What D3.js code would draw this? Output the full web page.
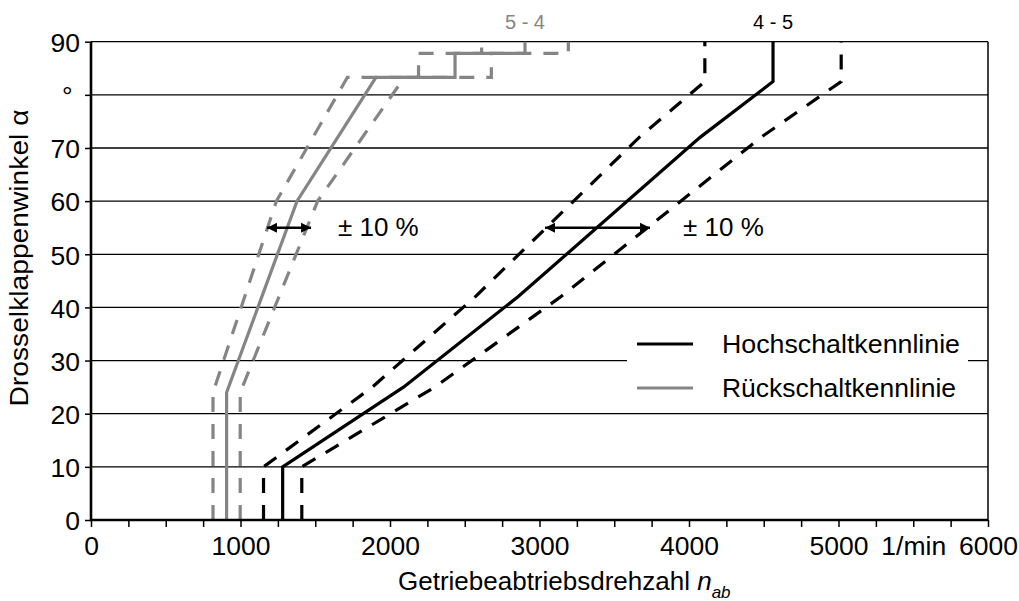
<!DOCTYPE html>
<html><head><meta charset="utf-8">
<script src="https://cdn.jsdelivr.net/npm/d3@7/dist/d3.min.js"></script>
<style>
body{margin:0;background:#fff}
svg{display:block;font-family:"Liberation Sans",Arial,Helvetica,sans-serif}
</style>
</head><body>
<svg id="c" width="1019" height="601"></svg>
<script>
// ---------- data ----------
const xTicks = [0, 1000, 2000, 3000, 4000, 5000, 5500, 6000];
const xTickLabels = ["0", "1000", "2000", "3000", "4000", "5000", "1/min", "6000"];
const xMinorStep = 250;
const yTicks = [0, 10, 20, 30, 40, 50, 60, 70, 80, 90];
const yTickLabels = ["0", "10", "20", "30", "40", "50", "60", "70", "°\u00a0", "90"];

// Hochschaltkennlinie 4-5 (angle in °, speed in 1/min)
const upAngle     = [0, 10, 25, 42, 72, 82.5, 90];
const upSpeed     = [1282, 1282, 2090, 2856, 4074, 4562, 4562];
const upSpeedLow  = [1154, 1154, 1881, 2570, 3667, 4106, 4106];
const upSpeedHigh = [1410, 1410, 2299, 3142, 4481, 5018, 5018];

// Rückschaltkennlinie 5-4
const downAngle     = [0, 24, 60, 83.3, 83.3, 87.8, 87.8, 90];
const downSpeed     = [907, 907, 1378, 1906, 2435, 2435, 2903, 2903];
const downSpeedLow  = [816, 816, 1240, 1715, 2191, 2191, 2613, 2613];
const downSpeedHigh = [998, 998, 1516, 2097, 2678, 2678, 3193, 3193];

// tolerance arrows (±10 %)
const arrowAngle = [55, 55];
const arrowFrom  = [1177, 3037];
const arrowTo    = [1472, 3739];
const tolText    = ["± 10 %", "± 10 %"];
const tolTextAt  = [1652, 3960];

const shiftLabels  = ["4 - 5", "5 - 4"];
const legendLabels = ["Hochschaltkennlinie", "Rückschaltkennlinie"];
const xTitle = "Getriebeabtriebsdrehzahl ";
const xTitleVar = "n";
const xTitleSub = "ab";
const yTitle = "Drosselklappenwinkel α";

// ---------- layout ----------
const W = 1019, H = 601;
const M = {left: 91, right: 31, top: 41.7, bottom: 81};
const GRAY = "#858585";
const svg = d3.select("#c");

const x = d3.scaleLinear().domain([0, 6000]).range([M.left, W - M.right]);
const y = d3.scaleLinear().domain([0, 90]).range([H - M.bottom, M.top]);

// arrow marker
svg.append("defs").append("marker")
  .attr("id", "ah").attr("viewBox", "0 0 10 10")
  .attr("refX", 10).attr("refY", 5)
  .attr("markerUnits", "userSpaceOnUse")
  .attr("markerWidth", 10).attr("markerHeight", 11)
  .attr("orient", "auto-start-reverse")
  .append("path").attr("d", "M0,0L10,5L0,10Z").attr("fill", "#000");

// grid lines
svg.append("g").selectAll("line").data(yTicks.filter(v => v > 0)).join("line")
  .attr("x1", x(0)).attr("x2", x(6000))
  .attr("y1", d => y(d)).attr("y2", d => y(d))
  .attr("stroke", "#000").attr("stroke-width", 1.3);

// right frame
svg.append("line").attr("x1", x(6000)).attr("x2", x(6000))
  .attr("y1", y(0)).attr("y2", y(90)).attr("stroke", "#000").attr("stroke-width", 1.5);

// legend background
const legX = 627, legY = 318;
svg.append("rect").attr("x", legX).attr("y", legY).attr("width", 341).attr("height", 86)
  .attr("fill", "#fff");

// curves
const line = d3.line().x(d => x(d[0])).y(d => y(d[1]));
const curves = [
  {xs: upSpeedLow,    ys: upAngle,   color: "#000", dash: "15,12", w: 3.2},
  {xs: upSpeedHigh,   ys: upAngle,   color: "#000", dash: "15,12", w: 3.2},
  {xs: upSpeed,       ys: upAngle,   color: "#000", dash: null,    w: 3.2},
  {xs: downSpeedLow,  ys: downAngle, color: GRAY,   dash: "15,12", w: 3.2},
  {xs: downSpeedHigh, ys: downAngle, color: GRAY,   dash: "15,12", w: 3.2},
  {xs: downSpeed,     ys: downAngle, color: GRAY,   dash: null,    w: 3.2}
];
svg.append("g").selectAll("path").data(curves).join("path")
  .attr("d", c => line(d3.zip(c.xs, c.ys)))
  .attr("fill", "none").attr("stroke", c => c.color)
  .attr("stroke-width", c => c.w)
  .attr("stroke-dasharray", c => c.dash)
  .attr("stroke-linejoin", "miter").attr("stroke-linecap", "butt");

// arrows
svg.append("g").selectAll("line").data(arrowFrom).join("line")
  .attr("x1", (d, i) => x(d)).attr("x2", (d, i) => x(arrowTo[i]))
  .attr("y1", (d, i) => y(arrowAngle[i])).attr("y2", (d, i) => y(arrowAngle[i]))
  .attr("stroke", "#000").attr("stroke-width", 2.6)
  .attr("marker-start", "url(#ah)").attr("marker-end", "url(#ah)");
svg.append("g").selectAll("text").data(tolText).join("text")
  .attr("x", (d, i) => x(tolTextAt[i])).attr("y", (d, i) => y(arrowAngle[i]) + 8)
  .attr("font-size", 26).attr("fill", "#000").text(d => d);

// shift labels on top
svg.append("text").attr("x", x(upSpeed[upSpeed.length - 1])).attr("y", 29)
  .attr("text-anchor", "middle").attr("font-size", 20).attr("fill", "#000").text(shiftLabels[0]);
svg.append("text").attr("x", x(downSpeed[downSpeed.length - 1])).attr("y", 29)
  .attr("text-anchor", "middle").attr("font-size", 20).attr("fill", GRAY).text(shiftLabels[1]);

// legend
const leg = svg.append("g");
[["#000", 0], [GRAY, 1]].forEach(([c, i]) => {
  const yy = 344 + i * 44;
  leg.append("line").attr("x1", 637).attr("x2", 693).attr("y1", yy).attr("y2", yy)
    .attr("stroke", c).attr("stroke-width", 3.2);
  leg.append("text").attr("x", 722).attr("y", yy + 8.5).attr("font-size", 25)
    .attr("textLength", i === 0 ? 238 : 234).attr("lengthAdjust", "spacingAndGlyphs")
    .text(legendLabels[i]);
});

// axes
const xAxis = svg.append("g").attr("transform", `translate(0,${y(0)})`)
  .call(d3.axisBottom(x).tickValues(d3.range(0, 6001, xMinorStep)).tickSize(7).tickFormat(""));
xAxis.select(".domain").remove();
xAxis.selectAll("line").attr("stroke", "#000").attr("stroke-width", 1.5);

const xLab = svg.append("g").attr("transform", `translate(0,${y(0)})`)
  .call(d3.axisBottom(x).tickValues(xTicks).tickSize(0).tickPadding(16)
    .tickFormat((d, i) => xTickLabels[i]));
xLab.select(".domain").remove();
xLab.selectAll("text").attr("font-size", 26.5).attr("fill", "#000")
  .attr("font-family", "Liberation Sans, Arial, sans-serif");

svg.append("line").attr("x1", x(0) - 1).attr("x2", x(6000))
  .attr("y1", y(0)).attr("y2", y(0)).attr("stroke", "#000").attr("stroke-width", 2.4);

const yAxis = svg.append("g").attr("transform", `translate(${x(0)},0)`)
  .call(d3.axisLeft(y).tickValues(yTicks).tickSize(6).tickPadding(5)
    .tickFormat((d, i) => yTickLabels[i]));
yAxis.select(".domain").remove();
yAxis.selectAll("line").attr("stroke", "#000").attr("stroke-width", 1.5);
yAxis.selectAll("text").attr("font-size", 26.5).attr("fill", "#000").attr("dy", "0.37em")
  .attr("font-family", "Liberation Sans, Arial, sans-serif");
svg.append("line").attr("x1", x(0)).attr("x2", x(0))
  .attr("y1", y(0) + 1).attr("y2", y(90)).attr("stroke", "#000").attr("stroke-width", 2.6);

// axis titles
const xt = svg.append("text").attr("x", 398).attr("y", 590).attr("font-size", 26).attr("fill", "#000");
xt.append("tspan").text(xTitle);
xt.append("tspan").attr("font-style", "italic").text(xTitleVar);
xt.append("tspan").attr("font-style", "italic").attr("font-size", 17).attr("dy", 8).text(xTitleSub);

svg.append("text").attr("transform", "translate(28,258) rotate(-90)")
  .attr("text-anchor", "middle").attr("font-size", 26).attr("fill", "#000")
  .attr("textLength", 297).attr("lengthAdjust", "spacingAndGlyphs")
  .text(yTitle);
</script>
</body></html>
